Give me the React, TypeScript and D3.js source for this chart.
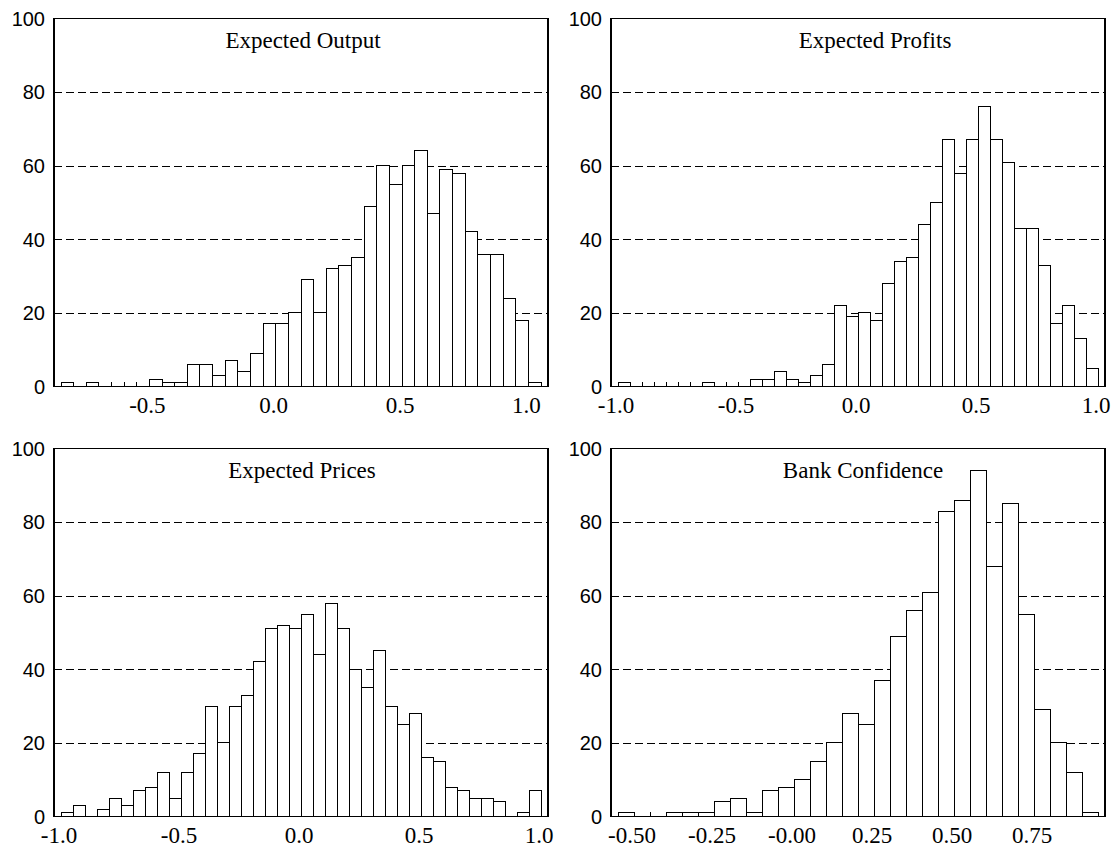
import * as d3 from 'd3';

// bin width shared by all four histograms
const binWidth = 0.05;

const titles = ['Expected Output', 'Expected Profits', 'Expected Prices', 'Bank Confidence'];
const binStarts = [-0.85, -1.0, -1.0, -0.55];

const outputCounts = [
  1, 0, 1, 0, 0, 0, 0, 2, 1, 1, 6, 6, 3, 7, 4, 9, 17, 17, 20, 29,
  20, 32, 33, 35, 49, 60, 55, 60, 64, 47, 59, 58, 42, 36, 36, 24, 18, 1,
];
const profitCounts = [
  1, 0, 0, 0, 0, 0, 0, 1, 0, 0, 0, 2, 2, 4, 2, 1, 3, 6, 22, 19,
  20, 18, 28, 34, 35, 44, 50, 67, 58, 67, 76, 67, 61, 43, 43, 33, 17, 22, 13, 5,
];
const priceCounts = [
  1, 3, 0, 2, 5, 3, 7, 8, 12, 5, 12, 17, 30, 20, 30, 33, 42, 51, 52, 51,
  55, 44, 58, 51, 40, 35, 45, 30, 25, 28, 16, 15, 8, 7, 5, 5, 4, 0, 1, 7,
];
const confidenceCounts = [
  1, 0, 0, 1, 1, 1, 4, 5, 1, 7, 8, 10, 15, 20, 28, 25, 37, 49, 56, 61,
  83, 86, 94, 68, 85, 55, 29, 20, 12, 1,
];

const xTicksA = [-0.5, 0.0, 0.5, 1.0];
const xTicksB = [-1.0, -0.5, 0.0, 0.5, 1.0];
const xTicksC = [-0.5, -0.25, 0.0, 0.25, 0.5, 0.75];
const xLabelsA = ['-0.5', '0.0', '0.5', '1.0'];
const xLabelsB = ['-1.0', '-0.5', '0.0', '0.5', '1.0'];
const xLabelsC = ['-0.50', '-0.25', '-0.00', '0.25', '0.50', '0.75'];

const yTicks = [0, 20, 40, 60, 80, 100];
const gridValues = [20, 40, 60, 80];

// layout
const frameW = 494;
const frameH = 368;
const inset = 7;
const panelPos = [
  [54, 18.5],
  [611, 18.5],
  [54, 448.5],
  [611, 448.5],
];
const titleShift = [2, 17, 1, 5];

type HistProps = {
  title: string;
  start: number;
  counts: number[];
  ticks: number[];
  labels: string[];
  left: number;
  top: number;
  titleDx: number;
};

function Histogram({ title, start, counts, ticks, labels, left, top, titleDx }: HistProps) {
  const n = counts.length;
  const x = d3
    .scaleLinear()
    .domain([start, start + n * binWidth])
    .range([left + inset, left + frameW - inset]);
  const y = d3.scaleLinear().domain([0, 100]).range([top + frameH, top]);
  const bottom = y(0);
  const edges = d3.range(n + 1).map((i) => start + i * binWidth);

  return (
    <g>
      {gridValues.map((v) => (
        <line
          key={'g' + v}
          x1={left}
          x2={left + frameW}
          y1={Math.round(y(v)) + 0.5}
          y2={Math.round(y(v)) + 0.5}
          stroke="#000"
          strokeWidth={1}
          strokeDasharray="8,4"
        />
      ))}
      {edges.map((e, i) => (
        <line
          key={'t' + i}
          x1={x(e)}
          x2={x(e)}
          y1={bottom}
          y2={bottom - 5}
          stroke="#000"
          strokeWidth={1}
          shapeRendering="crispEdges"
        />
      ))}
      {counts.map((c, i) =>
        c > 0 ? (
          <rect
            key={'b' + i}
            x={x(start + i * binWidth)}
            y={y(c)}
            width={x(start + (i + 1) * binWidth) - x(start + i * binWidth)}
            height={bottom - y(c)}
            fill="#fff"
            stroke="#000"
            strokeWidth={1}
            shapeRendering="crispEdges"
          />
        ) : null
      )}
      <rect
        x={left}
        y={top}
        width={frameW}
        height={frameH}
        fill="none"
        stroke="#000"
        strokeWidth={1.2}
        shapeRendering="crispEdges"
      />
      {yTicks.map((v) => (
        <text
          key={'y' + v}
          x={left - 9}
          y={y(v)}
          dy="0.36em"
          textAnchor="end"
          fontFamily="'Liberation Sans', Arial, sans-serif"
          fontSize={20}
        >
          {v}
        </text>
      ))}
      {ticks.map((v, i) => (
        <text
          key={'x' + i}
          x={x(v) - 2}
          y={bottom + 26}
          textAnchor="middle"
          fontFamily="'Liberation Serif', 'Times New Roman', serif"
          fontSize={23}
        >
          {labels[i]}
        </text>
      ))}
      <text
        x={left + frameW / 2 + titleDx}
        y={top + 29}
        textAnchor="middle"
        fontFamily="'Liberation Serif', 'Times New Roman', serif"
        fontSize={23}
      >
        {title}
      </text>
    </g>
  );
}

export default function App() {
  const counts = [outputCounts, profitCounts, priceCounts, confidenceCounts];
  const ticks = [xTicksA, xTicksB, xTicksB, xTicksC];
  const labels = [xLabelsA, xLabelsB, xLabelsB, xLabelsC];
  return (
    <svg
      width={1116}
      height={848}
      style={{ position: 'absolute', left: 0, top: 0, background: '#fff' }}
    >
      <rect width={1116} height={848} fill="#fff" />
      {titles.map((t, i) => (
        <Histogram
          key={t}
          title={t}
          start={binStarts[i]}
          counts={counts[i]}
          ticks={ticks[i]}
          labels={labels[i]}
          left={panelPos[i][0]}
          top={panelPos[i][1]}
          titleDx={titleShift[i]}
        />
      ))}
    </svg>
  );
}
